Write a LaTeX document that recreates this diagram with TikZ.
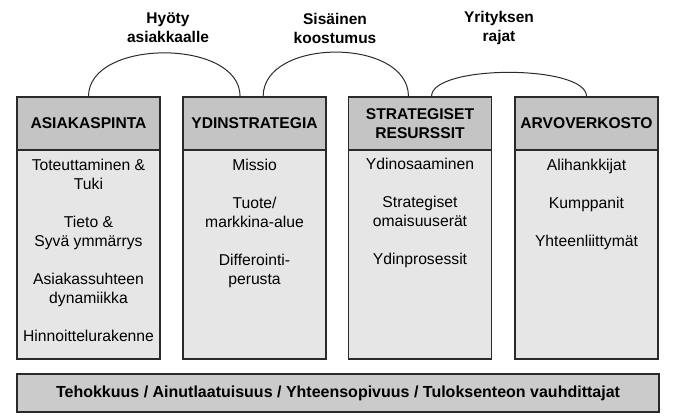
\documentclass[tikz,border=0pt]{standalone}
\usepackage{fontspec}
\setmainfont{Liberation Sans}
\usetikzlibrary{calc}

\definecolor{headfill}{HTML}{C4C4C4}
\definecolor{bodyfill}{HTML}{E6E6E6}
\definecolor{barfill}{HTML}{CBCBCB}
\definecolor{edge}{HTML}{2A2A2A}

\begin{document}
\begin{tikzpicture}[x=1pt, y=-1pt,
			headbox/.style={rectangle, draw=edge, line width=1.3pt, fill=headfill,
					minimum width=143pt, minimum height=53pt, align=center, inner sep=0pt,
					font=\fontsize{15.6}{18.5}\selectfont\bfseries},
			bodybox/.style={rectangle, draw=edge, line width=1.3pt, fill=bodyfill,
					minimum width=143pt, minimum height=209pt, inner sep=0pt},
			items/.style={anchor=north, align=center, inner sep=0pt,
					font=\fontsize{15.7}{19}\selectfont},
			bar/.style={rectangle, draw=edge, line width=1.3pt, fill=barfill,
					minimum width=642pt, minimum height=38pt, inner sep=0pt,
					font=\fontsize{16}{19}\selectfont\bfseries},
			toplabel/.style={align=center, inner sep=0pt,
					font=\fontsize{15.5}{19}\selectfont\bfseries},
			arc/.style={draw=edge, line width=1pt},
		]
		\useasboundingbox (0,0) rectangle (673,420);

		% --- Rungot ---
		\node (b1) [bodybox] at (88.5,  254.5) {};
		\node (b2) [bodybox] at (254.5, 254.5) {};
		\node (b3) [bodybox] at (420,   254.5) {};
		\node (b4) [bodybox] at (586.5, 254.5) {};

		% --- Otsikot ---
		\node (h1) [headbox] at (88.5,  123.5) {ASIAKASPINTA};
		\node (h2) [headbox] at (254.5, 123.5) {YDINSTRATEGIA};
		\node (h3) [headbox] at (420,   123.5) {STRATEGISET\\RESURSSIT};
		\node (h4) [headbox] at (586.5, 123.5) {ARVOVERKOSTO};

		% --- Sisällöt ---
		\node (t1) [items] at ([yshift=-9.5pt]b1.north)
			{Toteuttaminen \&\\Tuki\\[19pt]Tieto \&\\Syvä ymmärrys\\[19pt]Asiakassuhteen\\dynamiikka\\[19pt]Hinnoittelurakenne};
		\node (t2) [items] at ([yshift=-9.5pt]b2.north)
			{Missio\\[19pt]Tuote/\\markkina-alue\\[19pt]Differointi-\\perusta};
		\node (t3) [items] at ([yshift=-8.5pt]b3.north)
			{Ydinosaaminen\\[19pt]Strategiset\\omaisuuserät\\[19pt]Ydinprosessit};
		\node (t4) [items] at ([yshift=-9.5pt]b4.north)
			{Alihankkijat\\[19pt]Kumppanit\\[19pt]Yhteenliittymät};

		% --- Alapalkki ---
		\node (bar) [bar] at (338, 393) {Tehokkuus / Ainutlaatuisuus / Yhteensopivuus / Tuloksenteon vauhdittajat};

		% --- Kaaret otsikoiden välillä ---
		\coordinate (a1) at (h1.north);
		\coordinate (a2) at ($(h2.north west)!0.4!(h2.north east)$);
		\coordinate (a3) at ($(h2.north west)!0.56!(h2.north east)$);
		\coordinate (a4) at ($(h3.north west)!0.42!(h3.north east)$);
		\coordinate (a5) at ($(h3.north west)!0.58!(h3.north east)$);
		\coordinate (a6) at (h4.north);
		\draw [arc] (a1) .. controls +(0,-58) and +(0,-58) .. (a2);
		\draw [arc] (a3) .. controls +(0,-59) and +(0,-59) .. (a4);
		\draw [arc] (a5) .. controls +(0,-32) and +(0,-32) .. (a6);

		% --- Kaarien nimet ---
		\node (l1) [toplabel] at (168, 28) {Hyöty\\asiakkaalle};
		\node (l2) [toplabel] at (335, 28) {Sisäinen\\koostumus};
		\node (l3) [toplabel] at (499, 28) {Yrityksen\\rajat};

	\end{tikzpicture}
\end{document}
